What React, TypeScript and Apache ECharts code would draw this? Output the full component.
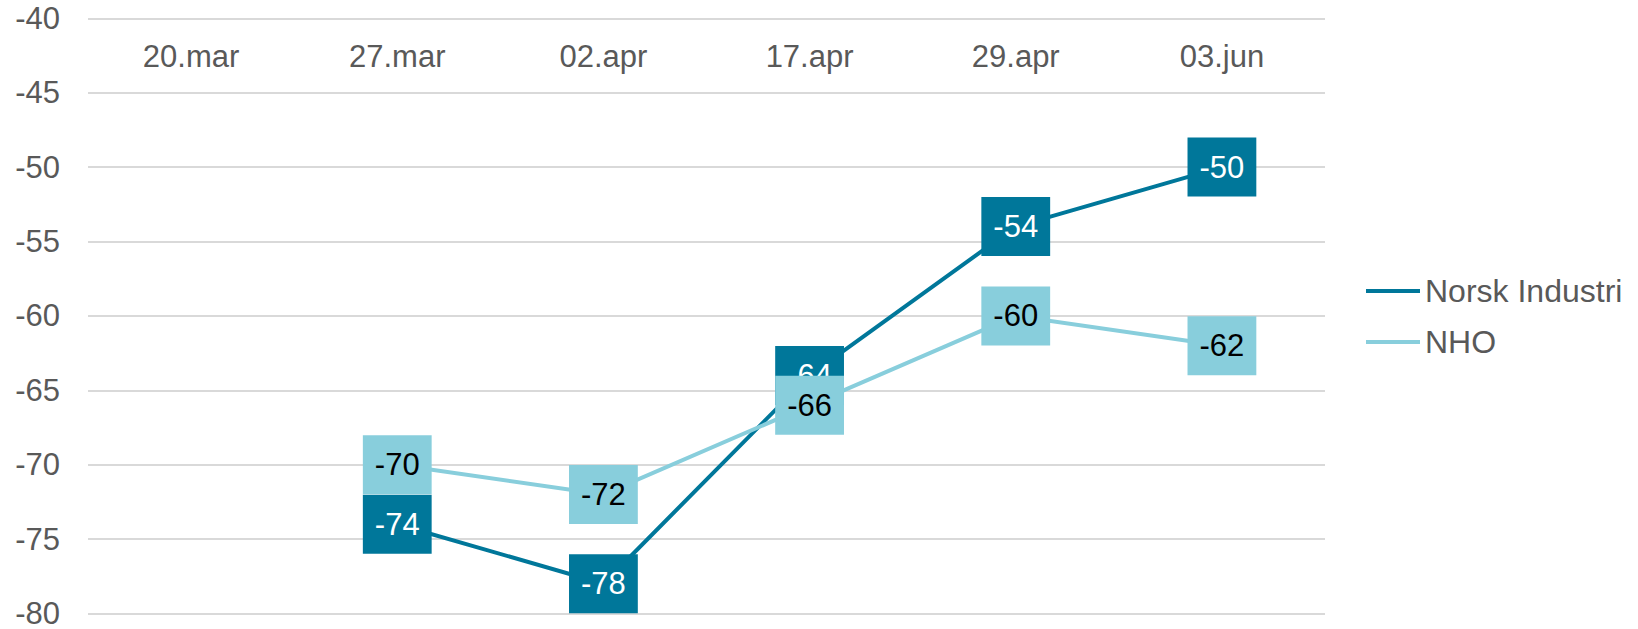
import React, { useEffect, useRef } from "react";
import * as echarts from "echarts";

const categories = ["20.mar", "27.mar", "02.apr", "17.apr", "29.apr", "03.jun"];
const norskIndustri = [null, -74, -78, -64, -54, -50];
const nho = [null, -70, -72, -66, -60, -62];
const yMin = -80;
const yMax = -40;
const yInterval = 5;

const DARK = "#00779A";
const LIGHT = "#88CEDC";
const FONT = "'Liberation Sans', Arial, sans-serif";
const FS = 31;

export default function App() {
  const ref = useRef<HTMLDivElement>(null);
  useEffect(() => {
    document.body.style.margin = "0";
    const chart = echarts.init(ref.current!, null, { renderer: "svg" });
    const labelBase = {
      show: true,
      position: "inside",
      fontFamily: FONT,
      fontSize: FS,
      lineHeight: 35,
      padding: [12, 12],
    };
    chart.setOption({
      animation: false,
      grid: { left: 88, right: 313, top: 18.3, bottom: 13.3, containLabel: false },
      legend: {
        orient: "vertical",
        left: 1366,
        top: 275,
        padding: 0,
        itemWidth: 54,
        itemHeight: 4,
        itemGap: 19,
        icon: "rect",
        textStyle: { fontFamily: FONT, fontSize: 32, lineHeight: 32, color: "#595959" },
        data: ["Norsk Industri", "NHO"],
      },
      xAxis: {
        type: "category",
        data: categories,
        position: "top",
        boundaryGap: true,
        axisLine: { show: false },
        axisTick: { show: false },
        axisLabel: {
          inside: true,
          margin: 23,
          fontFamily: FONT,
          fontSize: FS,
          color: "#595959",
        },
        splitLine: { show: false },
      },
      yAxis: {
        type: "value",
        min: yMin,
        max: yMax,
        interval: yInterval,
        axisLine: { show: false },
        axisTick: { show: false },
        axisLabel: { margin: 28, fontFamily: FONT, fontSize: FS, color: "#595959" },
        splitLine: { lineStyle: { color: "#D9D9D9", width: 2 } },
      },
      series: [
        {
          name: "Norsk Industri",
          type: "line",
          data: norskIndustri,
          z: 2,
          symbol: "circle",
          symbolSize: 1,
          itemStyle: { color: DARK },
          lineStyle: { color: DARK, width: 4 },
          label: { ...labelBase, color: "#FFFFFF", backgroundColor: DARK },
        },
        {
          name: "NHO",
          type: "line",
          data: nho,
          z: 3,
          symbol: "circle",
          symbolSize: 1,
          itemStyle: { color: LIGHT },
          lineStyle: { color: LIGHT, width: 4 },
          label: { ...labelBase, color: "#000000", backgroundColor: LIGHT },
        },
      ],
    });
    return () => chart.dispose();
  }, []);
  return <div ref={ref} style={{ width: 1638, height: 629 }} />;
}
